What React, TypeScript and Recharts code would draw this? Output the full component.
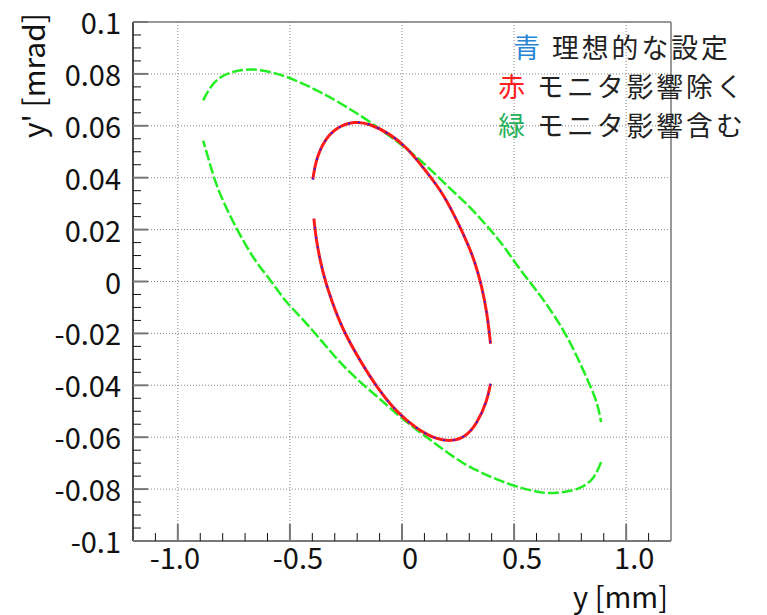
import { ScatterChart, Scatter, XAxis, YAxis, CartesianGrid, ReferenceLine } from 'recharts';

const FONT = '"Noto Sans CJK JP", "Noto Sans", sans-serif';

// tick values
const xMajor = [-1, -0.5, 0, 0.5, 1];
const xMinor = [-1.1, -0.9, -0.8, -0.7, -0.6, -0.4, -0.3, -0.2, -0.1, 0.1, 0.2, 0.3, 0.4, 0.6, 0.7, 0.8, 0.9, 1.1];
const yMajor = [-0.1, -0.08, -0.06, -0.04, -0.02, 0, 0.02, 0.04, 0.06, 0.08, 0.1];
const yMinor = [
  -0.095, -0.09, -0.085, -0.075, -0.07, -0.065, -0.055, -0.05, -0.045, -0.035, -0.03, -0.025,
  -0.015, -0.01, -0.005, 0.005, 0.01, 0.015, 0.025, 0.03, 0.035, 0.045, 0.05, 0.055,
  0.065, 0.07, 0.075, 0.085, 0.09, 0.095,
];
const xGrid = [-1, -0.5, 0, 0.5, 1];
const yGrid = [-0.08, -0.06, -0.04, -0.02, 0, 0.02, 0.04, 0.06, 0.08];

// ideal / monitor-excluded ellipse (blue and red overlap)
const innerUpper: [number, number][] = [
  [-0.398, 0.0393], [-0.386, 0.046], [-0.353, 0.0537], [-0.293, 0.0595], [-0.211, 0.0618],
  [-0.143, 0.0608], [-0.054, 0.0569], [0.021, 0.0518], [0.111, 0.0421], [0.185, 0.0338],
  [0.26, 0.0209], [0.32, 0.0094], [0.357, -0.0022], [0.38, -0.0124], [0.395, -0.024],
];
const innerLower: [number, number][] = [
  [0.395, -0.0394], [0.38, -0.0459], [0.335, -0.0548], [0.28, -0.0602], [0.22, -0.0615],
  [0.156, -0.061], [0.066, -0.0568], [-0.024, -0.0504], [-0.113, -0.0407], [-0.188, -0.0304],
  [-0.263, -0.0189], [-0.315, -0.0073], [-0.353, 0.003], [-0.383, 0.0158], [-0.393, 0.0242],
];

// monitor-included ellipse (green)
const greenUpper: [number, number][] = [
  [-0.887, 0.0698], [-0.861, 0.0743], [-0.816, 0.079], [-0.741, 0.0813], [-0.667, 0.082],
  [-0.577, 0.0807], [-0.487, 0.0781], [-0.368, 0.0733], [-0.248, 0.0674], [-0.129, 0.0608],
  [-0.009, 0.0531], [0.058, 0.0486], [0.14, 0.0421], [0.215, 0.0357], [0.29, 0.0299],
  [0.35, 0.0242], [0.41, 0.0184], [0.469, 0.0119], [0.529, 0.0042], [0.589, -0.0022],
  [0.649, -0.0092], [0.723, -0.0189], [0.783, -0.0292], [0.836, -0.0394], [0.873, -0.0471],
  [0.888, -0.0542],
];
const greenLower: [number, number][] = [
  [0.888, -0.0696], [0.858, -0.076], [0.798, -0.0799], [0.723, -0.0812], [0.649, -0.0818],
  [0.589, -0.0808], [0.507, -0.079], [0.425, -0.0764], [0.35, -0.0735], [0.275, -0.0703],
  [0.185, -0.0649], [0.111, -0.06], [-0.001, -0.0529], [-0.106, -0.0446], [-0.196, -0.0382],
  [-0.286, -0.0304], [-0.36, -0.0227], [-0.45, -0.0138], [-0.525, -0.0073], [-0.584, 0.0004],
  [-0.659, 0.0081], [-0.734, 0.0197], [-0.786, 0.0286], [-0.831, 0.0376], [-0.861, 0.0466],
  [-0.887, 0.0543],
];

const legendLines = [
  { key: '青', keyColor: '#2a86d4', text: '理想的な設定' },
  { key: '赤', keyColor: '#ff2020', text: 'モニタ影響除く' },
  { key: '緑', keyColor: '#27b05a', text: 'モニタ影響含む' },
];

const toPoints = (arr: [number, number][]) => arr.map(([x, y]) => ({ x, y }));

const xTicks = [...xMajor, ...xMinor].sort((a, b) => a - b);
const yTicks = [...yMajor, ...yMinor].sort((a, b) => a - b);

function XTick(props: any) {
  const { x, y, payload } = props;
  const v = payload.value;
  const major = xMajor.includes(v);
  return (
    <g>
      <line x1={x} x2={x} y1={y} y2={y - (major ? 17 : 8)} stroke={major ? '#777' : '#111'} strokeWidth={major ? 2 : 1} />
      {major && (
        <text x={x + (v === -1 ? -3 : 8)} y={y + 28} textAnchor="middle" fontSize={29} fontFamily={FONT} fill="#111">
          {v === 0 ? '0' : v.toFixed(1)}
        </text>
      )}
    </g>
  );
}

function YTick(props: any) {
  const { x, y, payload } = props;
  const v = payload.value;
  const major = yMajor.includes(v);
  return (
    <g>
      <line x1={x} x2={x + (major ? 15 : 8)} y1={y} y2={y} stroke={major ? '#777' : '#111'} strokeWidth={major ? 2 : 1} />
      {major && (
        <text x={x - 12} y={y + 12} textAnchor="end" fontSize={29} fontFamily={FONT} fill="#111">
          {String(v)}
        </text>
      )}
    </g>
  );
}

const noDot = () => <g />;
const greenLine = { stroke: '#22ee22', strokeWidth: 2.5, strokeDasharray: '11 3' };
const redLine = { stroke: '#ff1a1a', strokeWidth: 3 };
const blueLine = { stroke: '#1a1aff', strokeWidth: 1.5, strokeDasharray: '2 8' };

export default function App() {
  return (
    <div style={{ position: 'absolute', left: 0, top: 0, width: 767, height: 615, background: '#fff' }}>
      <ScatterChart width={767} height={615} margin={{ top: 22, right: 96, bottom: 0, left: 0 }}>
        <CartesianGrid
          horizontalValues={yGrid}
          verticalValues={xGrid}
          stroke="#888"
          strokeDasharray="1 2"
        />
        <XAxis
          type="number"
          dataKey="x"
          domain={[-1.2, 1.2]}
          ticks={xTicks}
          interval={0}
          allowDataOverflow
          height={74}
          tickSize={0}
          tickMargin={0}
          tickLine={false}
          tick={<XTick />}
          axisLine={{ stroke: '#777', strokeWidth: 2 }}
          label={{
            content: () => (
              <text x={668} y={608} textAnchor="end" fontSize={29} fontFamily={FONT} fill="#111">
                y [mm]
              </text>
            ),
          }}
        />
        <YAxis
          type="number"
          dataKey="y"
          domain={[-0.1, 0.1]}
          ticks={yTicks}
          interval={0}
          allowDataOverflow
          width={133}
          tickSize={0}
          tickMargin={0}
          tickLine={false}
          tick={<YTick />}
          axisLine={{ stroke: '#111', strokeWidth: 1.5 }}
          label={{
            content: () => (
              <text transform="translate(45,13) rotate(-90)" x={0} y={0} textAnchor="end" fontSize={30} fontFamily={FONT} fill="#111">
                y' [mrad]
              </text>
            ),
          }}
        />
        <ReferenceLine y={0.1} stroke="#777" strokeWidth={1.5} />
        <ReferenceLine x={1.2} stroke="#777" strokeWidth={1.5} />

        <Scatter data={toPoints(greenUpper)} shape={noDot} line={greenLine} lineJointType="basis" isAnimationActive={false} legendType="none" />
        <Scatter data={toPoints(greenLower)} shape={noDot} line={greenLine} lineJointType="basis" isAnimationActive={false} legendType="none" />

        <Scatter data={toPoints(innerUpper)} shape={noDot} line={redLine} lineJointType="basis" isAnimationActive={false} legendType="none" />
        <Scatter data={toPoints(innerLower)} shape={noDot} line={redLine} lineJointType="basis" isAnimationActive={false} legendType="none" />
        <Scatter data={toPoints(innerUpper)} shape={noDot} line={blueLine} lineJointType="basis" isAnimationActive={false} legendType="none" />
        <Scatter data={toPoints(innerLower)} shape={noDot} line={blueLine} lineJointType="basis" isAnimationActive={false} legendType="none" />
      </ScatterChart>

      <div
        style={{
          position: 'absolute',
          left: 472,
          top: 27,
          width: 300,
          textAlign: 'center',
          fontFamily: FONT,
          fontSize: 26.8,
          letterSpacing: 3,
          lineHeight: '39px',
          color: '#222',
          whiteSpace: 'nowrap',
        }}
      >
        {legendLines.map((l) => (
          <div key={l.key}>
            <span style={{ color: l.keyColor }}>{l.key}</span> {l.text}
          </div>
        ))}
      </div>
    </div>
  );
}
